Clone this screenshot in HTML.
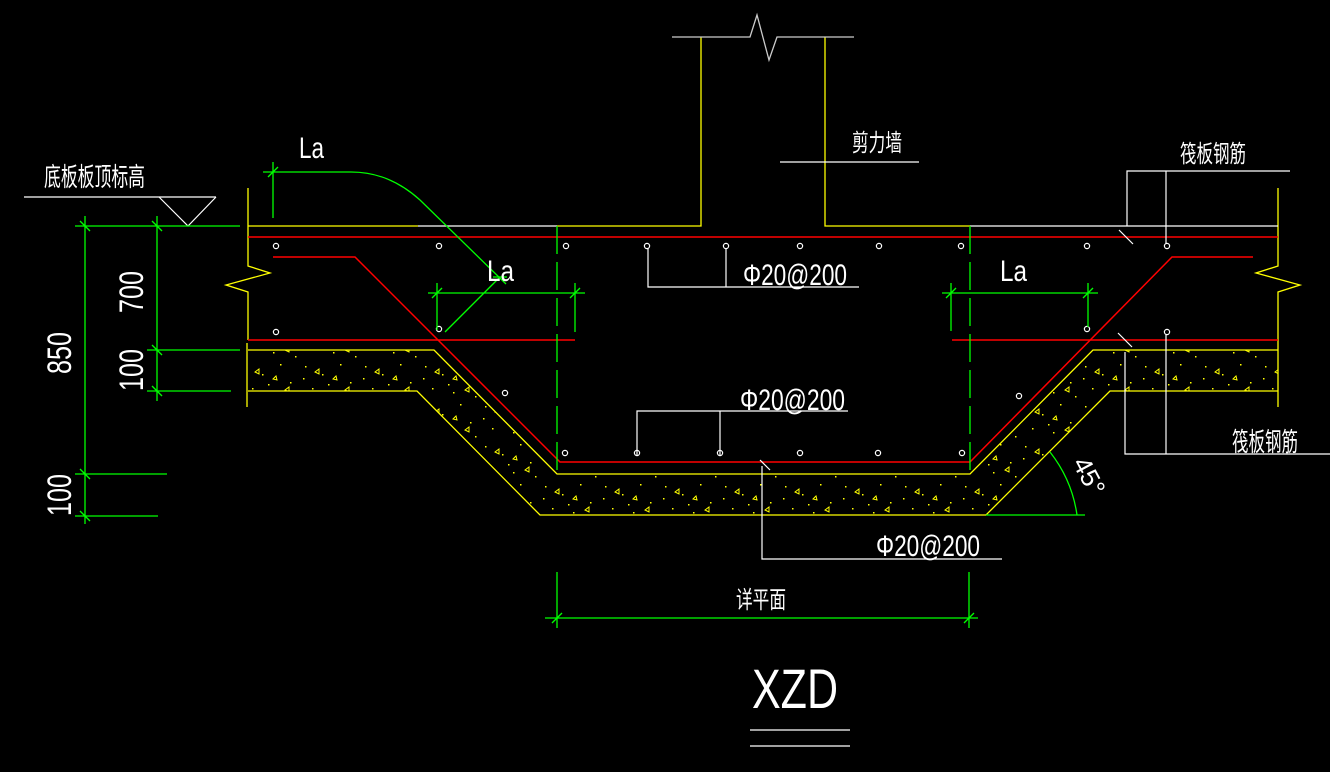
<!DOCTYPE html>
<html><head><meta charset="utf-8"><style>
html,body{margin:0;padding:0;background:#000;}
svg{display:block;}
text{font-family:"Liberation Sans","Noto Sans CJK SC",sans-serif;fill:#fff;}
</style></head><body>
<svg width="1330" height="772" viewBox="0 0 1330 772" xmlns="http://www.w3.org/2000/svg">
<rect width="1330" height="772" fill="#000"/>
<defs>
<pattern id="conc" width="60" height="40" patternUnits="userSpaceOnUse">
<g fill="#ff0">
<rect x="5" y="6" width="1.5" height="1.5"/><rect x="22" y="14" width="1.5" height="1.5"/><rect x="40" y="4" width="1.5" height="1.5"/>
<rect x="12" y="28" width="1.5" height="1.5"/><rect x="33" y="32" width="1.5" height="1.5"/><rect x="50" y="22" width="1.5" height="1.5"/>
<rect x="28" y="24" width="1.5" height="1.5"/><rect x="55" y="36" width="1.5" height="1.5"/><rect x="3" y="18" width="1.5" height="1.5"/>
</g>
<g fill="none" stroke="#ff0" stroke-width="1">
<path d="M15 12 l4 -3 l0 5 z"/><path d="M45 30 l4 -3 l0 5 z"/><path d="M36 16 l-3 3 l4 1 z"/>
</g>
</pattern>
</defs>

<!-- concrete bed -->
<path d="M248 350 L434 350 L557 474 L970 474 L1093 350 L1278 350 L1278 391 L1110 391 L986 515 L540 515 L417 391 L248 391 Z" fill="url(#conc)" stroke="none"/>
<g stroke="#ff0" stroke-width="1.3" fill="none">
<polyline points="248,350 434,350 557,474 970,474 1093,350 1278,350"/>
<polyline points="248,391 417,391 540,515 986,515 1110,391 1278,391"/>
<!-- left wall edge -->
<polyline points="248,188 248,266 270,273 226,285 248,292 248,340"/>
<line x1="247" y1="343" x2="247" y2="407"/>
<!-- right wall edge -->
<polyline points="1278,188 1278,266 1256,273 1300,285 1278,292 1278,407"/>
<!-- top slab line -->
<line x1="248" y1="226" x2="418" y2="226"/>
<polyline points="557,226 701,226 701,37"/>
<polyline points="825,37 825,226 970,226"/>
</g>
<line x1="418" y1="226" x2="557" y2="226" stroke="#fff" stroke-width="1.3"/>
<line x1="970" y1="226" x2="1278" y2="226" stroke="#fff" stroke-width="1.3"/>
<!-- wall top break -->
<polyline points="672,37 750,37 757,15 769,60 777,37 854,37" stroke="#ccc" stroke-width="1.3" fill="none"/>

<!-- red rebars -->
<g stroke="#f00" stroke-width="1.5" fill="none">
<line x1="248" y1="237" x2="1278" y2="237"/>
<polyline points="273,257 355,257 560,462 970,462 1172,257 1253,257"/>
<line x1="248" y1="340" x2="575" y2="340"/>
<line x1="952" y1="340" x2="1278" y2="340"/>
</g>

<!-- dots -->
<g stroke="#fff" stroke-width="1.2" fill="none">
<circle cx="276" cy="246" r="2.6"/><circle cx="439" cy="246" r="2.6"/><circle cx="566" cy="246" r="2.6"/>
<circle cx="647" cy="246" r="2.6"/><circle cx="726" cy="246" r="2.6"/><circle cx="800" cy="246" r="2.6"/>
<circle cx="879" cy="246" r="2.6"/><circle cx="961" cy="246" r="2.6"/><circle cx="1087" cy="246" r="2.6"/><circle cx="1167" cy="246" r="2.6"/>
<circle cx="276" cy="332" r="2.6"/><circle cx="439" cy="329" r="2.6"/><circle cx="1087" cy="329" r="2.6"/><circle cx="1167" cy="332" r="2.6"/>
<circle cx="505" cy="393" r="2.6"/><circle cx="1019" cy="396" r="2.6"/>
<circle cx="565" cy="453" r="2.6"/><circle cx="637" cy="453" r="2.6"/><circle cx="720" cy="453" r="2.6"/>
<circle cx="800" cy="453" r="2.6"/><circle cx="878" cy="453" r="2.6"/><circle cx="962" cy="453" r="2.6"/>
</g>

<!-- white leaders -->
<g stroke="#fff" stroke-width="1.2" fill="none">
<polyline points="648,248 648,287 859,287"/><line x1="726" y1="248" x2="726" y2="287"/>
<polyline points="637,455 637,411 848,411"/><line x1="720" y1="455" x2="720" y2="411"/>
<line x1="760" y1="460" x2="770" y2="470"/>
<polyline points="762,466 762,559 1002,559"/>
<line x1="780" y1="162" x2="919" y2="162"/>
<polyline points="1127,226 1127,171 1290,171"/><line x1="1166" y1="171" x2="1166" y2="244"/>
<line x1="1119" y1="230" x2="1133" y2="244"/>
<line x1="1118" y1="333" x2="1132" y2="347"/>
<polyline points="1125,352 1125,454 1330,454"/><line x1="1166" y1="334" x2="1166" y2="454"/>
<line x1="24" y1="197" x2="216" y2="197"/>
<polyline points="159,197 188,226 216,197"/>
<line x1="750" y1="730" x2="850" y2="730"/><line x1="750" y1="746" x2="850" y2="746"/>
</g>

<!-- green dims -->
<g stroke="#0f0" stroke-width="1.3" fill="none">
<line x1="85" y1="216" x2="85" y2="524"/>
<line x1="157" y1="216" x2="157" y2="401"/>
<line x1="75" y1="226" x2="240" y2="226"/>
<line x1="147" y1="350" x2="240" y2="350"/>
<line x1="147" y1="391" x2="231" y2="391"/>
<line x1="75" y1="474" x2="167" y2="474"/>
<line x1="75" y1="516" x2="158" y2="516"/>
<line x1="80" y1="221" x2="90" y2="231"/><line x1="152" y1="221" x2="162" y2="231"/>
<line x1="152" y1="345" x2="162" y2="355"/><line x1="152" y1="386" x2="162" y2="396"/>
<line x1="80" y1="469" x2="90" y2="479"/><line x1="80" y1="511" x2="90" y2="521"/>
<!-- dashed centerlines -->
<line x1="557" y1="226" x2="557" y2="470" stroke-dasharray="28,8"/>
<line x1="970" y1="226" x2="970" y2="470" stroke-dasharray="28,8"/>
<!-- La top -->
<path d="M263 172 L351 172 C378 172 400 182 420 200 L506 284"/>
<line x1="273" y1="162" x2="273" y2="218"/><line x1="268" y1="177" x2="278" y2="167"/>
<!-- La mid left -->
<line x1="428" y1="293" x2="585" y2="293"/>
<line x1="437" y1="283" x2="437" y2="330"/><line x1="575" y1="283" x2="575" y2="332"/>
<line x1="432" y1="298" x2="442" y2="288"/><line x1="570" y1="298" x2="580" y2="288"/>
<line x1="445" y1="332" x2="500" y2="277"/><line x1="493" y1="277" x2="507" y2="277"/>
<!-- La right -->
<line x1="942" y1="293" x2="1098" y2="293"/>
<line x1="951" y1="283" x2="951" y2="331"/><line x1="1088" y1="283" x2="1088" y2="327"/>
<line x1="946" y1="298" x2="956" y2="288"/><line x1="1083" y1="298" x2="1093" y2="288"/>
<!-- 详平面 -->
<line x1="545" y1="618" x2="978" y2="618"/>
<line x1="557" y1="572" x2="557" y2="628"/><line x1="969" y1="572" x2="969" y2="628"/>
<line x1="552" y1="623" x2="562" y2="613"/><line x1="964" y1="623" x2="974" y2="613"/>
<!-- 45 -->
<line x1="986" y1="515" x2="1085" y2="515"/>
<path d="M1050 452 Q1072 480 1077 515"/>
</g>

<!-- text -->
<text x="299" y="158" font-size="30" textLength="25" lengthAdjust="spacingAndGlyphs">La</text>
<text x="487" y="281" font-size="30" textLength="27" lengthAdjust="spacingAndGlyphs">La</text>
<text x="1000" y="281" font-size="30" textLength="27" lengthAdjust="spacingAndGlyphs">La</text>
<text x="852" y="151" font-size="24" textLength="50" lengthAdjust="spacingAndGlyphs">剪力墙</text>
<text x="44" y="186" font-size="26" textLength="101" lengthAdjust="spacingAndGlyphs">底板板顶标高</text>
<text x="1180" y="162" font-size="24" textLength="66" lengthAdjust="spacingAndGlyphs">筏板钢筋</text>
<text x="1232" y="451" font-size="26" textLength="66" lengthAdjust="spacingAndGlyphs">筏板钢筋</text>
<text x="743" y="285" font-size="30" textLength="104" lengthAdjust="spacingAndGlyphs">Φ20@200</text>
<text x="740" y="410" font-size="30" textLength="105" lengthAdjust="spacingAndGlyphs">Φ20@200</text>
<text x="876" y="556" font-size="30" textLength="104" lengthAdjust="spacingAndGlyphs">Φ20@200</text>
<text x="736" y="608" font-size="24" textLength="50" lengthAdjust="spacingAndGlyphs">详平面</text>
<text x="752" y="708" font-size="56" textLength="86" lengthAdjust="spacingAndGlyphs">XZD</text>
<text transform="translate(1072,463) rotate(62)" font-size="26">45°</text>
<text transform="translate(71,374) rotate(-90)" font-size="34" textLength="42" lengthAdjust="spacingAndGlyphs">850</text>
<text transform="translate(143,313) rotate(-90)" font-size="34" textLength="42" lengthAdjust="spacingAndGlyphs">700</text>
<text transform="translate(143,391) rotate(-90)" font-size="34" textLength="42" lengthAdjust="spacingAndGlyphs">100</text>
<text transform="translate(71,516) rotate(-90)" font-size="34" textLength="42" lengthAdjust="spacingAndGlyphs">100</text>
</svg>
</body></html>
